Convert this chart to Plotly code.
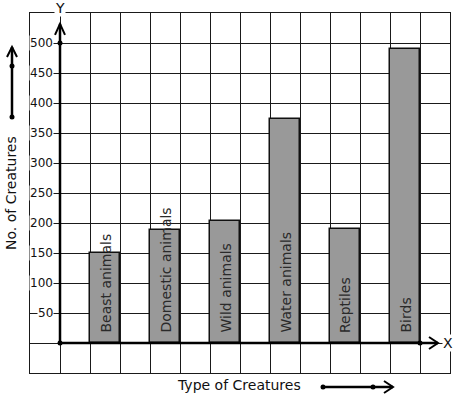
import plotly.graph_objects as go

# ---------------- data ----------------
categories = ["Beast animals", "Domestic animals", "Wild animals",
              "Water animals", "Reptiles", "Birds"]
values = [150, 188, 204, 373, 190, 490]
ytick_values = [50, 100, 150, 200, 250, 300, 350, 400, 450, 500]
ytick_labels = ["50", "100", "150", "200", "250", "300", "350", "400", "450", "500"]
x_title = "Type of Creatures"
y_title = "No. of Creatures"

# ---------------- layout geometry ----------------
W, H = 457, 399
ML, MR, MT, MB = 30, 7, 13, 26
XR = [-1, 13]
YR = [-50, 550]
PW, PH = W - ML - MR, H - MT - MB
PXX = PW / (XR[1] - XR[0])      # px per x unit
PXY = PH / (YR[1] - YR[0])      # px per y unit


def dx(px):
    return px / PXX


def dy(px):
    return px / PXY


def P(px, py):
    """pixel -> paper coords"""
    return ((px - ML) / PW, (H - MB - py) / PH)


positions = [1.5 + 2 * i for i in range(len(categories))]

fig = go.Figure()
fig.add_trace(go.Bar(
    x=positions, y=values, width=1,
    marker=dict(color="#999999", line=dict(color="#111111", width=1.5)),
    hoverinfo="skip", showlegend=False,
))

shapes = []
BLK = "#000000"
AX_W = 2.5

# y axis with arrow
y_tip = 532
shapes.append(dict(type="line", xref="x", yref="y", x0=0, y0=0, x1=0, y1=y_tip,
                   line=dict(color=BLK, width=AX_W), layer="above"))
shapes.append(dict(type="path", xref="x", yref="y",
                   path=f"M {-dx(5)},{y_tip - dy(11)} L 0,{y_tip} L {dx(5)},{y_tip - dy(11)}",
                   line=dict(color=BLK, width=2), layer="above"))
# x axis with arrow
x_tip = 12.6
shapes.append(dict(type="line", xref="x", yref="y", x0=0, y0=0, x1=x_tip, y1=0,
                   line=dict(color=BLK, width=AX_W), layer="above"))
shapes.append(dict(type="path", xref="x", yref="y",
                   path=f"M {x_tip - dx(9)},{dy(6)} L {x_tip},0 L {x_tip - dx(9)},{-dy(6)}",
                   line=dict(color=BLK, width=2), layer="above"))
# dots on axes
for (cx, cy) in [(0, 0), (0, 500), (12, 0)]:
    shapes.append(dict(type="circle", xref="x", yref="y", xsizemode="pixel", ysizemode="pixel",
                       xanchor=cx, yanchor=cy, x0=-2.5, x1=2.5, y0=-2.5, y1=2.5,
                       fillcolor=BLK, line=dict(color=BLK, width=0), layer="above"))

# left decorative arrow
a0 = P(12, 117); a1 = P(12, 47)
shapes.append(dict(type="line", xref="paper", yref="paper", x0=a0[0], y0=a0[1], x1=a1[0], y1=a1[1],
                   line=dict(color=BLK, width=2.5)))
w1 = P(7, 57); w2 = P(17, 57)
shapes.append(dict(type="path", xref="paper", yref="paper",
                   path=f"M {w1[0]},{w1[1]} L {a1[0]},{a1[1]} L {w2[0]},{w2[1]}",
                   line=dict(color=BLK, width=2)))
# bottom decorative arrow
b0 = P(323, 387); b1 = P(393, 387)
shapes.append(dict(type="line", xref="paper", yref="paper", x0=b0[0], y0=b0[1], x1=b1[0], y1=b1[1],
                   line=dict(color=BLK, width=2.5)))
v1 = P(384, 381); v2 = P(384, 393)
shapes.append(dict(type="path", xref="paper", yref="paper",
                   path=f"M {v1[0]},{v1[1]} L {b1[0]},{b1[1]} L {v2[0]},{v2[1]}",
                   line=dict(color=BLK, width=2)))
# decorative dots (paper)
for (px, py) in [(12, 117), (12, 66), (323, 387), (373, 387)]:
    c = P(px, py)
    shapes.append(dict(type="circle", xref="paper", yref="paper", xsizemode="pixel", ysizemode="pixel",
                       xanchor=c[0], yanchor=c[1], x0=-2.5, x1=2.5, y0=-2.5, y1=2.5,
                       fillcolor=BLK, line=dict(color=BLK, width=0)))

FONT = "DejaVu Sans"
ann = []
for v, t in zip(ytick_values, ytick_labels):
    ann.append(dict(x=dx(-6.5), y=v, xref="x", yref="y", text=t, showarrow=False,
                    xanchor="right", yanchor="middle", bgcolor="white", borderpad=0,
                    font=dict(family=FONT, size=12, color="#111")))
for xp, name in zip(positions, categories):
    ann.append(dict(x=xp, y=dy(9), xref="x", yref="y", text=name, showarrow=False,
                    textangle=-90, xanchor="center", yanchor="bottom", borderpad=0,
                    font=dict(family=FONT, size=14, color="#2a2a2a")))
yl = P(60, 8)
ann.append(dict(x=yl[0], y=yl[1], xref="paper", yref="paper", text="Y", showarrow=False,
                xanchor="center", yanchor="middle", bgcolor="white", borderpad=0,
                font=dict(family=FONT, size=14, color="#111")))
ann.append(dict(x=dx(448 - 60), y=0, xref="x", yref="y", text="X", showarrow=False,
                xanchor="center", yanchor="middle", bgcolor="white", borderpad=0,
                font=dict(family=FONT, size=14, color="#111")))
ty = P(11, 193)
ann.append(dict(x=ty[0], y=ty[1], xref="paper", yref="paper", text=y_title, showarrow=False,
                textangle=-90, xanchor="center", yanchor="middle",
                font=dict(family=FONT, size=14, color="#111")))
tx = P(239, 385)
ann.append(dict(x=tx[0], y=tx[1], xref="paper", yref="paper", text=x_title, showarrow=False,
                xanchor="center", yanchor="middle",
                font=dict(family=FONT, size=14, color="#111")))

fig.update_layout(
    width=W, height=H,
    margin=dict(l=ML, r=MR, t=MT, b=MB, pad=0),
    paper_bgcolor="white", plot_bgcolor="white",
    bargap=0,
    shapes=shapes, annotations=ann,
    xaxis=dict(range=XR, tick0=0, dtick=1, showgrid=True, gridcolor="#1a1a1a", gridwidth=1,
               zeroline=False, showticklabels=False, ticks="", showline=True, linecolor="#1a1a1a",
               linewidth=1, mirror=True, fixedrange=True),
    yaxis=dict(range=YR, tick0=0, dtick=50, showgrid=True, gridcolor="#1a1a1a", gridwidth=1,
               zeroline=False, showticklabels=False, ticks="", showline=True, linecolor="#1a1a1a",
               linewidth=1, mirror=True, fixedrange=True),
)

fig.write_html("out.html", config={"displayModeBar": False},
               post_script="document.body.style.margin='0';document.body.style.overflow='hidden';")
